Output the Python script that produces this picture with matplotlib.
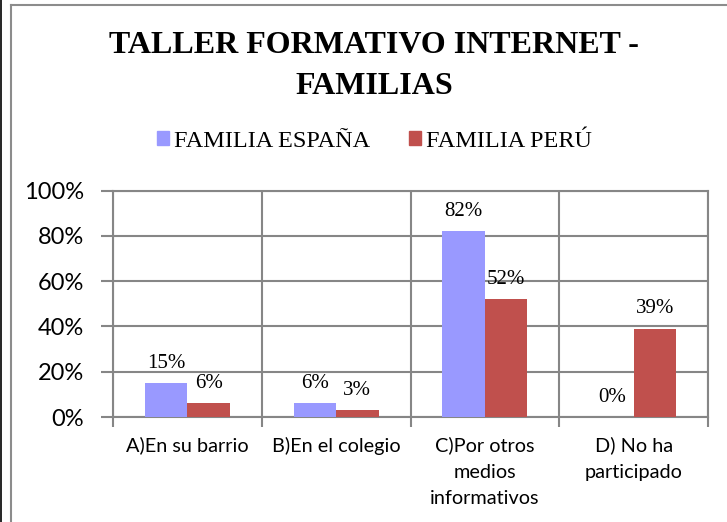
import numpy as np
import matplotlib
matplotlib.use("Agg")
import matplotlib.pyplot as plt
from matplotlib.lines import Line2D

# survey results, share of families per answer
categories = ["A)En su barrio", "B)En el colegio", "C)Por otros\nmedios\ninformativos", "D) No ha\nparticipado"]
espana = [15, 6, 82, 0]
peru = [6, 3, 52, 39]
series_names = ["FAMILIA ESPAÑA", "FAMILIA PERÚ"]
yticks = [0, 20, 40, 60, 80, 100]

blue = "#9999FF"
red = "#C0504D"
grid = "#868686"
serif = ["Liberation Serif", "DejaVu Serif"]
sans = ["Lato", "DejaVu Sans"]

fig = plt.figure(figsize=(7.27, 5.22), dpi=100)
W, H = 727, 522
ax = fig.add_axes([113 / W, 1 - 417 / H, (708 - 113) / W, (417 - 190.7) / H])

x = np.arange(len(categories))
bw = 0.286
b1 = ax.bar(x - bw / 2, espana, bw, color=blue, zorder=3)
b2 = ax.bar(x + bw / 2, peru, bw, color=red, zorder=3)

for bars, vals in ((b1, espana), (b2, peru)):
    for b, v in zip(bars, vals):
        ax.annotate(f"{v}%", (b.get_x() + b.get_width() / 2, v),
                    xytext=(0, 11), textcoords="offset points",
                    ha="center", va="baseline", fontsize=15, family=serif)

ax.set_xlim(-0.5, len(categories) - 0.5)
ax.set_ylim(0, 100)
ax.set_yticks(yticks)
ax.set_yticklabels([f"{t}%" for t in yticks], family=sans, fontsize=17)
ax.set_xticks(x)
ax.set_xticklabels(categories, family=sans, fontsize=14.3, linespacing=1.68)
ax.set_xticks(np.arange(len(categories) + 1) - 0.5, minor=True)

ax.tick_params(axis="x", which="major", length=0, pad=14)
ax.tick_params(axis="x", which="minor", length=7, width=1.5, color=grid)
ax.tick_params(axis="y", length=9, width=1.5, color=grid, pad=12)
ax.grid(axis="y", color=grid, linewidth=1.5, zorder=0)
ax.grid(axis="x", which="minor", color=grid, linewidth=1.5, zorder=0)
for s in ax.spines.values():
    s.set_color(grid)
    s.set_linewidth(1.5)

# title and legend sit over the centre of the chart frame
cx = 374 / W
fig.text(cx, 1 - 45 / H, "TALLER FORMATIVO INTERNET -", ha="center", va="center",
         fontsize=23, fontweight="bold", family=serif)
fig.text(cx, 1 - 87 / H, "FAMILIAS", ha="center", va="center",
         fontsize=23, fontweight="bold", family=serif)

handles = [plt.Rectangle((0, 0), 1, 1, color=blue), plt.Rectangle((0, 0), 1, 1, color=red)]
fig.legend(handles, series_names, loc="center", bbox_to_anchor=(cx, 1 - 141 / H), ncol=2,
           frameon=False, prop={"family": serif, "size": 17.5}, handlelength=0.5,
           handleheight=0.5, handletextpad=0.2, columnspacing=1.6)

# chart frame and page edge
fig.add_artist(Line2D([11 / W, 11 / W], [0, 1 - 5 / H], color="#8c8c8c", linewidth=1.5))
fig.add_artist(Line2D([11 / W, 1], [1 - 5 / H, 1 - 5 / H], color="#8c8c8c", linewidth=1.5))
fig.add_artist(Line2D([1.5 / W, 1.5 / W], [0, 1], color="black", linewidth=1.2))

fig.savefig("out.png", dpi=100)
